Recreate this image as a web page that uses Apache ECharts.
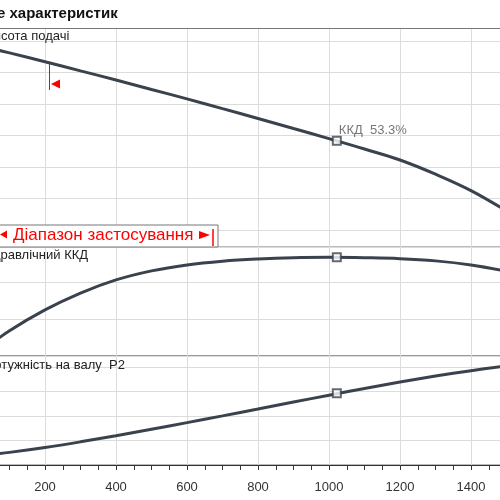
<!DOCTYPE html>
<html>
<head>
<meta charset="utf-8">
<script src="https://cdn.jsdelivr.net/npm/echarts@6/dist/echarts.min.js"></script>
<style>
  html, body { margin: 0; padding: 0; background: #fff; }
  #chart { width: 500px; height: 500px; }
</style>
</head>
<body>
<div id="chart"></div>
<script>
// витрата (вісь X)
const flow = [0, 100, 200, 300, 400, 500, 600, 700, 800, 900, 1000, 1100, 1200, 1300, 1400, 1500];
// висота подачі, м
const head = [6.89, 6.62, 6.34, 6.05, 5.76, 5.46, 5.16, 4.85, 4.54, 4.22, 3.90, 3.57, 3.22, 2.77, 2.25, 1.60];
// гідравлічний ККД, %
const efficiency = [0, 13.6, 24.9, 34.0, 41.1, 46.0, 49.2, 51.2, 52.4, 53.1, 53.3, 53.1, 52.6, 51.4, 49.2, 45.8];
// потужність на валу P2, кВт
const power = [0.136, 0.206, 0.286, 0.378, 0.478, 0.584, 0.692, 0.802, 0.914, 1.028, 1.14, 1.25, 1.355, 1.452, 1.54, 1.62];
// робоча точка
const dutyFlow = 1022;
const dutyHead = 3.83;
const dutyEff = 53.3;
const dutyPower = 1.17;

const font = 'Arial, "Liberation Sans", sans-serif';
const curveColor = '#3a434d';
const gridColor = '#dcdcdc';

let myChart = echarts.init(document.getElementById('chart'));

const xAxes = [0, 1, 2].map(i => ({
  type: 'value',
  gridIndex: i,
  min: 0,
  max: 1500,
  interval: 200,
  position: i === 0 ? 'top' : 'bottom',
  axisLine: {show: i !== 1, onZero: false, lineStyle: {color: i === 2 ? '#333' : '#777'}},
  axisTick: {show: i === 2, length: 5, lineStyle: {color: '#333'}},
  minorTick: {show: i === 2, splitNumber: 4, length: 5, lineStyle: {color: '#333'}},
  axisLabel: {
    show: i === 2, margin: 16, fontSize: 13, color: '#333', fontFamily: font,
    showMaxLabel: false, formatter: v => String(v)
  },
  splitLine: {show: true, lineStyle: {color: gridColor, width: 1}}
}));

function yAxis(i, max, interval) {
  return {
    type: 'value',
    gridIndex: i,
    min: 0,
    max: max,
    interval: interval,
    axisLine: {show: false},
    axisTick: {show: false},
    axisLabel: {show: false},
    splitLine: {show: true, showMinLine: false, lineStyle: {color: gridColor, width: 1}}
  };
}

function curve(i, values) {
  return {
    type: 'line',
    xAxisIndex: i,
    yAxisIndex: i,
    data: flow.map((q, k) => [q, values[k]]),
    smooth: 0.4,
    showSymbol: false,
    lineStyle: {color: curveColor, width: 3},
    z: 3
  };
}

function duty(i, value, label) {
  return {
    type: 'scatter',
    xAxisIndex: i,
    yAxisIndex: i,
    data: [[dutyFlow, value]],
    symbol: 'rect',
    symbolSize: 8,
    itemStyle: {color: '#fff', borderColor: curveColor, borderWidth: 2},
    label: label ? {
      show: true,
      formatter: label,
      position: 'right',
      offset: [-8, -10],
      fontSize: 13,
      fontFamily: font,
      color: '#555'
    } : {show: false},
    z: 5
  };
}

const panelText = (x, y, text) => ({
  type: 'text', x: x, y: y, z: 50,
  style: {text: text, font: '13px ' + font, fill: '#222'}
});

const gridBase = {left: -26, width: 532.5, outerBoundsMode: 'none', containLabel: false};

const option = {
  animation: false,
  grid: [
    Object.assign({top: 28, height: 233.5}, gridBase),
    Object.assign({top: 247, height: 109, show: true, borderColor: '#777', borderWidth: 1}, gridBase),
    Object.assign({top: 356, height: 109, show: true, borderColor: '#777', borderWidth: 1}, gridBase)
  ],
  xAxis: xAxes,
  yAxis: [
    yAxis(0, 7.41, 1),
    yAxis(1, 58.9, 20),
    yAxis(2, 1.78, 0.4)
  ],
  series: [
    curve(0, head),
    curve(1, efficiency),
    curve(2, power),
    duty(0, dutyHead, 'ККД  ' + dutyEff + '%'),
    duty(1, dutyEff),
    duty(2, dutyPower)
  ],
  graphic: [
    {type: 'text', x: -3, y: 6, z: 50, style: {text: 'е характеристик', font: 'bold 15px ' + font, fill: '#111'}},
    panelText(-15, 30, 'Висота подачі'),
    panelText(-17, 249, 'Гідравлічний ККД'),
    panelText(-15, 359, 'Потужність на валу  P2'),
    // початок робочого діапазону
    {type: 'line', z: 50, shape: {x1: 49.5, y1: 63, x2: 49.5, y2: 90}, style: {stroke: '#f00', lineWidth: 1}},
    {type: 'polygon', z: 50, shape: {points: [[51, 84], [60, 79.5], [60, 88.5]]}, style: {fill: '#f00'}},
    // рамка "Діапазон застосування"
    {type: 'rect', z: 60, shape: {x: -5, y: 225, width: 223, height: 22}, style: {fill: '#fff', stroke: '#777', lineWidth: 1}},
    {type: 'polygon', z: 61, shape: {points: [[0, 234.5], [7, 230.5], [7, 238.5]]}, style: {fill: '#f00'}},
    {type: 'text', x: 13, y: 227, z: 61, style: {text: 'Діапазон застосування', font: '17px ' + font, fill: '#f00'}},
    {type: 'polygon', z: 61, shape: {points: [[199, 231], [199, 239], [210, 235]]}, style: {fill: '#f00'}},
    {type: 'line', z: 61, shape: {x1: 213, y1: 229, x2: 213, y2: 246}, style: {stroke: '#f00', lineWidth: 1.5}}
  ]
};

myChart.setOption(option);
</script>
</body>
</html>
